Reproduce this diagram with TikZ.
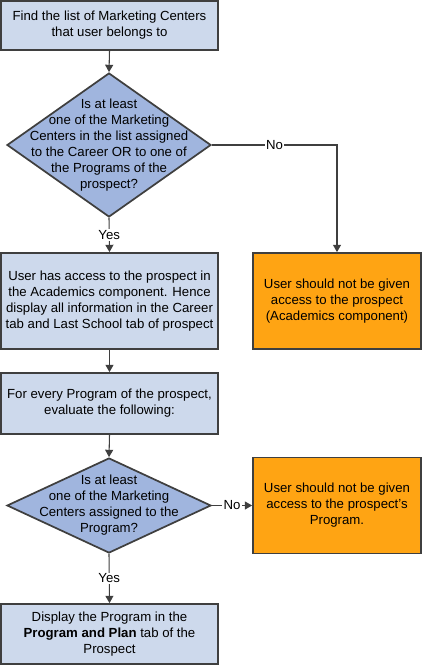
\documentclass[tikz,border=0pt]{standalone}
\usepackage{fontspec}
\setmainfont{Liberation Sans}
\usetikzlibrary{shapes.geometric,arrows.meta}
\definecolor{boxblue}{HTML}{CDD9EC}
\definecolor{diablue}{HTML}{A0B5DE}
\definecolor{orng}{HTML}{FFA413}
\definecolor{edge}{HTML}{3F3F3F}
\tikzset{
  every node/.style={font=\fontsize{9.9}{12}\selectfont, text=black},
  bluebox/.style={draw=edge, line width=1.3pt, fill=boxblue, rectangle, align=center, inner sep=0pt},
  orangebox/.style={draw=edge, line width=1.3pt, fill=orng, rectangle, align=center, inner sep=0pt},
  dia/.style={draw=edge, line width=1.3pt, fill=diablue, diamond, inner sep=0pt},
  txt/.style={align=center, inner sep=0pt},
  conn/.style={draw=edge, line width=0.8pt, -{Triangle[length=5.5pt,width=6pt]}},
  lbl/.style={fill=white, inner sep=1pt}
}
\begin{document}
\begin{tikzpicture}[x=0.75pt,y=-0.75pt]
\useasboundingbox (0,0) rectangle (423,666);
% boxes
\node[bluebox, minimum width=217*0.75pt, minimum height=49*0.75pt] (b1) at (109.5,25.5)
  {Find the list of Marketing Centers\\that user belongs to};
\node[dia, minimum width=204*0.75pt, minimum height=144*0.75pt] (d1) at (109,145) {};
\node[txt] (d1t) at (109,145.5) {Is at least\\one of the Marketing\\Centers in the list assigned\\to the Career OR to one of\\the Programs of the\\prospect?};
\node[bluebox, minimum width=217*0.75pt, minimum height=96*0.75pt] (b2) at (109.5,301)
  {User has access to the prospect in\\the Academics component. Hence\\display all information in the Career\\tab and Last School tab of prospect};
\node[orangebox, minimum width=168*0.75pt, minimum height=96*0.75pt] (o1) at (337,301)
  {User should not be given\\access to the prospect\\(Academics component)};
\node[bluebox, minimum width=217*0.75pt, minimum height=61*0.75pt] (b3) at (109.5,403.5)
  {For every Program of the prospect,\\evaluate the following:};
\node[dia, minimum width=204*0.75pt, minimum height=95*0.75pt] (d2) at (109,505.5) {};
\node[txt] (d2t) at (109,505) {Is at least\\one of the Marketing\\Centers assigned to the\\Program?};
\node[orangebox, minimum width=168*0.75pt, minimum height=96*0.75pt] (o2) at (337,505.5)
  {User should not be given\\access to the prospect's\\Program.};
\node[bluebox, minimum width=217*0.75pt, minimum height=60*0.75pt] (b4) at (109.5,634)
  {Display the Program in the\\\textbf{Program and Plan} tab of the\\Prospect};
% connectors
\draw[conn] (b1.south) -- (d1.north);
\draw[conn] (d1.east) -- (o1.north |- d1.east) node[lbl, pos=0.5] {No} -- (o1.north);
\draw[conn] (d1.south) -- node[lbl] {Yes} (b2.north);
\draw[conn] (b2.south) -- (b3.north);
\draw[conn] (b3.south) -- (d2.north);
\draw[conn] (d2.east) -- node[lbl] {No} (o2.west);
\draw[conn] (d2.south) -- node[lbl] {Yes} (b4.north);
\end{tikzpicture}
\end{document}
